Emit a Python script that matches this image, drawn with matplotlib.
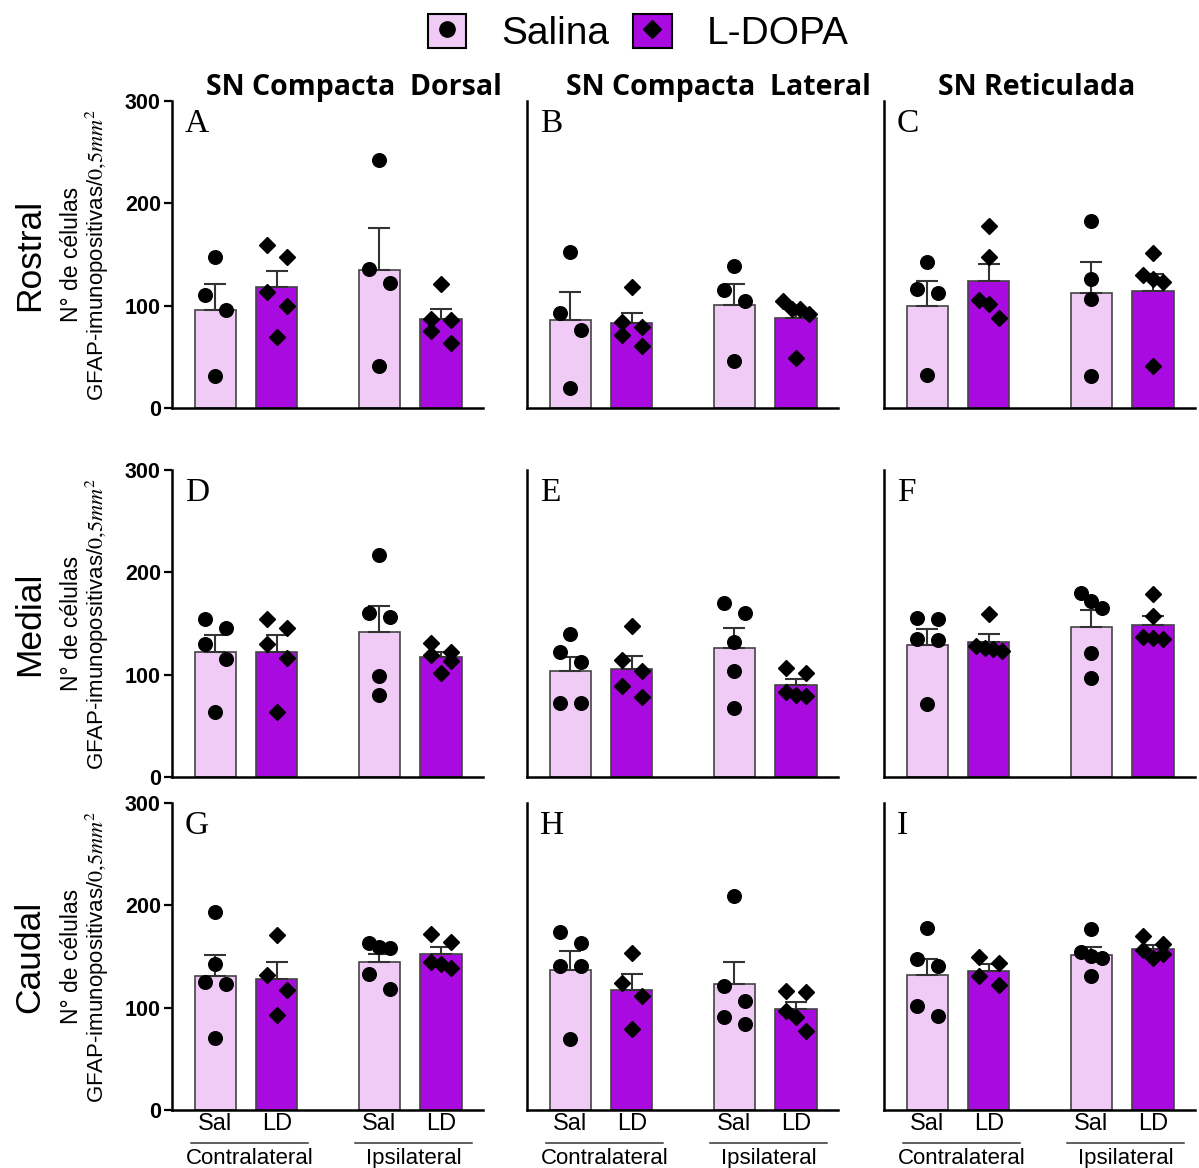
import numpy as np
import matplotlib.pyplot as plt
from matplotlib.patches import Patch
from matplotlib.lines import Line2D

plt.rcParams['font.family'] = ['Liberation Sans', 'DejaVu Sans']
plt.rcParams['mathtext.fontset'] = 'stix'

SAL_COLOR = '#f0cbf6'
LD_COLOR = '#a90ae0'

bar_labels = ['Sal', 'LD', 'Sal', 'LD']
sides = ['Contralateral', 'Ipsilateral']
regions = ['SN Compacta  Dorsal', 'SN Compacta  Lateral', 'SN Reticulada']
levels = ['Rostral', 'Medial', 'Caudal']
letters = ['A', 'B', 'C', 'D', 'E', 'F', 'G', 'H', 'I']

# bar heights (Sal contra, LD contra, Sal ipsi, LD ipsi) per panel A..I
means = [
    [96, 118, 135, 87],
    [86, 83, 101, 88],
    [100, 124, 112, 114],
    [122, 122, 142, 117],
    [103.5, 106, 126.5, 90],
    [129, 132, 146.5, 149],
    [130.5, 128, 145, 152.5],
    [137, 116.8, 123, 99],
    [131.5, 136.3, 151.5, 157],
]
# upper error (SEM)
sems = [
    [25, 16, 41, 10],
    [27, 10, 20, 8],
    [24, 17, 31, 17],
    [16.5, 16.5, 25, 5.5],
    [14, 12.5, 19, 5.5],
    [15.5, 7.5, 16.5, 8.5],
    [20.5, 17, 7.5, 6.5],
    [18.5, 16, 22, 7],
    [16, 6.6, 7.3, 4.5],
]

# individual animals
pts_A = [[148, 110, 96, 31], [159, 148, 113, 100, 69], [242, 136, 122, 41], [121, 87, 86, 75.5, 64]]
pts_B = [[152, 93, 76, 20], [118, 84, 79, 71, 61], [138.5, 115, 105, 46], [105, 97, 97, 92, 49]]
pts_C = [[143, 116, 112.5, 32], [178, 147.5, 105.5, 101.5, 88], [183, 126, 107, 31], [151, 130, 126, 123, 41]]
pts_D = [[154, 146, 130, 115, 64], [154, 146, 130, 116, 64], [217, 160, 156.5, 99, 80.5], [130.5, 122, 119, 113.5, 101.5]]
pts_E = [[140, 122, 112.5, 72, 72], [148, 114, 104, 89, 78], [170, 160, 132, 104, 67.5], [107, 102, 83, 80, 79]]
pts_F = [[155, 154, 134.5, 134, 71], [159, 128, 126, 125, 123], [180, 172, 165, 121.5, 97], [179, 157.5, 136.5, 135.5, 134.5]]
pts_G = [[193, 142.5, 125, 123, 70.5], [171, 132, 117.5, 92.5], [163.5, 159, 158, 133, 118], [172, 164, 145, 143, 139]]
pts_H = [[173.5, 163, 141, 141, 69], [153, 124, 111, 79], [209, 121.5, 107, 90.5, 84], [116.5, 115.5, 97, 90.5, 77]]
pts_I = [[177.5, 147.5, 140.5, 102, 91.5], [150, 143.5, 131, 122.5], [176.5, 154, 150.5, 148.5, 130.5], [170.5, 162, 156.5, 152.5, 148.5]]
points = [pts_A, pts_B, pts_C, pts_D, pts_E, pts_F, pts_G, pts_H, pts_I]


def spread(vals, thr=17.5, s=0.17):
    # simple swarm: points close in value get pushed sideways
    vals = sorted(vals, reverse=True)
    clusters = [[vals[0]]]
    for v in vals[1:]:
        if clusters[-1][-1] - v < thr:
            clusters[-1].append(v)
        else:
            clusters.append([v])
    xs, ys = [], []
    for c in clusters:
        k = len(c)
        if k == 1:
            off = [0]
        elif k == 2:
            off = [-s, s]
        elif k == 3:
            off = [-s, 0, s]
        elif c[0] - c[-1] < 14:
            off = list((np.arange(k) - (k - 1) / 2) * 0.14)
        else:
            off = [(-s if i % 2 == 0 else s) for i in range(k)]
            if k % 2 == 1:
                off[-1] = 0
        xs += off
        ys += c
    return np.array(xs), np.array(ys)


pos = np.array([0, 1, 2.667, 3.667])
colors = [SAL_COLOR, LD_COLOR, SAL_COLOR, LD_COLOR]
markers = ['o', 'D', 'o', 'D']
msizes = [9.8, 7.8, 9.8, 7.8]

fig = plt.figure(figsize=(11.99, 11.68), dpi=100)

lefts = [172 / 1199, 527 / 1199, 884 / 1199]
bottoms = [1 - 408 / 1168, 1 - 777 / 1168, 1 - 1110 / 1168]
w = 311 / 1199
h = 307 / 1168

for r in range(3):
    for c in range(3):
        i = r * 3 + c
        ax = fig.add_axes([lefts[c], bottoms[r], w, h])
        ax.bar(pos, means[i], width=0.667, color=colors, edgecolor='#444444',
               linewidth=1.2, zorder=2)
        ax.errorbar(pos, means[i], yerr=[[0] * 4, sems[i]], fmt='none',
                    ecolor='#333333', elinewidth=1.5, capsize=8, capthick=1.5, zorder=3)
        for j in range(4):
            dx, yv = spread(points[i][j])
            ax.plot(pos[j] + dx, yv, linestyle='none', marker=markers[j],
                    color='black', ms=msizes[j], zorder=4, clip_on=False)
        ax.set_xlim(-0.707, 4.35)
        ax.set_ylim(0, 300)
        for sp in ['top', 'right']:
            ax.spines[sp].set_visible(False)
        for sp in ['left', 'bottom']:
            ax.spines[sp].set_linewidth(1.8)
        if c == 0:
            ax.set_yticks([0, 100, 200, 300])
            ax.tick_params(axis='y', length=6, width=1.6, labelsize=15.5, pad=2)
            for t in ax.get_yticklabels():
                t.set_fontweight('bold')
        else:
            ax.set_yticks([])
        if r == 2:
            ax.set_xticks(pos, bar_labels)
            ax.tick_params(axis='x', length=0, labelsize=17, pad=2)
            tr = ax.get_xaxis_transform()
            for k, sd in enumerate(sides):
                x0, x1 = pos[2 * k] - 0.4, pos[2 * k + 1] + 0.5
                ax.plot([x0, x1], [-0.108, -0.108], color='#333333', lw=1.1,
                        transform=tr, clip_on=False)
                ax.text((x0 + x1) / 2, -0.158, sd, transform=tr, ha='center',
                        va='center', fontsize=16)
        else:
            ax.set_xticks([])
        ax.text(0.042, 0.899, letters[i], transform=ax.transAxes, fontsize=24,
                family='Liberation Serif', va='baseline', ha='left')
        if c == 0:
            yc = bottoms[r] + h / 2
            fig.text(30 / 1199, yc, levels[r], rotation=90, ha='center', va='center',
                     fontsize=25.5)
            fig.text(71 / 1199, yc, 'N° de células', rotation=90, ha='center',
                     va='center', fontsize=16.5)
            fig.text(97 / 1199, yc, r'GFAP-imunopositivas/$0{,}5mm^2$', rotation=90,
                     ha='center', va='center', fontsize=16)

title_x = [354, 718, 1037]
for c in range(3):
    fig.text(title_x[c] / 1199, 0.925, regions[c], ha='center', va='center',
             fontsize=20.5, fontweight='bold', family=['Open Sans', 'DejaVu Sans'])

handles = [
    (Patch(facecolor=SAL_COLOR, edgecolor='black', linewidth=1.5),
     Line2D([], [], marker='o', color='black', linestyle='none', ms=11)),
    (Patch(facecolor=LD_COLOR, edgecolor='black', linewidth=1.5),
     Line2D([], [], marker='D', color='black', linestyle='none', ms=9)),
]
fig.legend(handles, ['Salina', 'L-DOPA'], loc='center',
           bbox_to_anchor=(638 / 1199, 1 - 33 / 1168), ncol=2, frameon=False,
           fontsize=28, handlelength=1.0, handleheight=1.0, handletextpad=0.9,
           columnspacing=0.6)

fig.savefig('out.png', dpi=100)
